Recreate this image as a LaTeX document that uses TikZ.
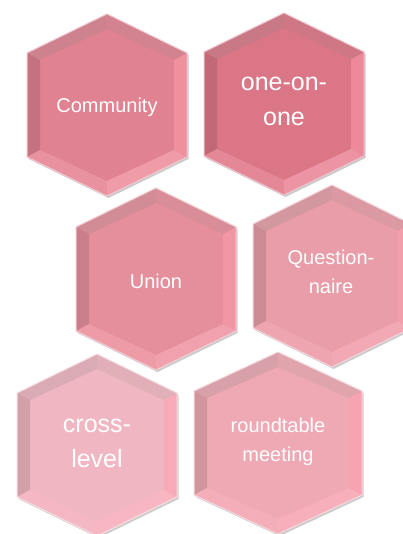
\documentclass[tikz,border=0pt]{standalone}
\usepackage{fontspec}
\setmainfont{Liberation Sans}
\usetikzlibrary{calc}
\definecolor{hexA}{HTML}{E08291}
\definecolor{hexB}{HTML}{DB7686}
\definecolor{hexC}{HTML}{E58F9C}
\definecolor{hexD}{HTML}{E89DA8}
\definecolor{hexE}{HTML}{F0B6C1}
\definecolor{hexF}{HTML}{EEA9B4}
\definecolor{glow}{HTML}{FF9DAE}
\begin{document}
\begin{tikzpicture}[x=1pt, y=-1pt,
  lbl/.style={text=white, align=center, inner sep=0pt},
  big/.style={lbl, font=\fontsize{25}{35}\selectfont},
  small/.style={lbl, font=\fontsize{20}{29}\selectfont}]
  \useasboundingbox (0,0) rectangle (403,534);
  \begin{scope}
  \clip (0,0) rectangle (403,534);
  % cells: centre x / centre y / half width / colour
  \foreach \cx/\cy/\w/\c in {107/105/80/hexA, 284/104/80/hexB, 156/279/80/hexC,
                              332/276/79/hexD, 97/445/80/hexE, 278/443/84/hexF}{
    \begin{scope}[shift={(\cx,\cy)}]
      \coordinate (T) at (0,-91);   \coordinate (UR) at (\w,-52);
      \coordinate (LR) at (\w,52);  \coordinate (B) at (0,91);
      \coordinate (LL) at (-\w,52); \coordinate (UL) at (-\w,-52);
      \coordinate (Ti) at (0,-76);      \coordinate (URi) at (\w-13,-45);
      \coordinate (LRi) at (\w-13,45);  \coordinate (Bi) at (0,76);
      \coordinate (LLi) at (-\w+13,45); \coordinate (ULi) at (-\w+13,-45);
      \fill[black!45, opacity=.45] ([shift={(1.5,2)}]T) -- ([shift={(1.5,2)}]UR) -- ([shift={(1.5,2)}]LR)
        -- ([shift={(1.5,2)}]B) -- ([shift={(1.5,2)}]LL) -- ([shift={(1.5,2)}]UL) -- cycle;
      \fill[\c] (T) -- (UR) -- (LR) -- (B) -- (LL) -- (UL) -- cycle;
      \fill[\c!80!gray] (T) -- (UL) -- (ULi) -- (Ti) -- cycle;
      \fill[\c!88!black] (UL) -- (LL) -- (LLi) -- (ULi) -- cycle;
      \fill[\c!80!glow!92!white] (LL) -- (B) -- (Bi) -- (LLi) -- cycle;
      \fill[\c!60!glow!88!white] (B) -- (LR) -- (LRi) -- (Bi) -- cycle;
      \fill[\c!50!glow] (LR) -- (UR) -- (URi) -- (LRi) -- cycle;
      \fill[\c!87!gray] (UR) -- (T) -- (Ti) -- (URi) -- cycle;
      \draw[\c!45!white, line width=1pt, line join=round]
        (T) -- (UR) -- (LR) -- (B) -- (LL) -- (UL) -- cycle;
    \end{scope}
  }
  \end{scope}
  \node[small] (comm) at (107,107) {Community};
  \node[big] (one) at (284,101) {one-on-\\one};
  \node[small] (union) at (156,281) {Union};
  \node[small] (quest) at (331,272) {Question-\\naire};
  \node[big] (cross) at (97,443) {cross-\\level};
  \node[small] (round) at (278,442) {roundtable\\meeting};
\end{tikzpicture}
\end{document}
